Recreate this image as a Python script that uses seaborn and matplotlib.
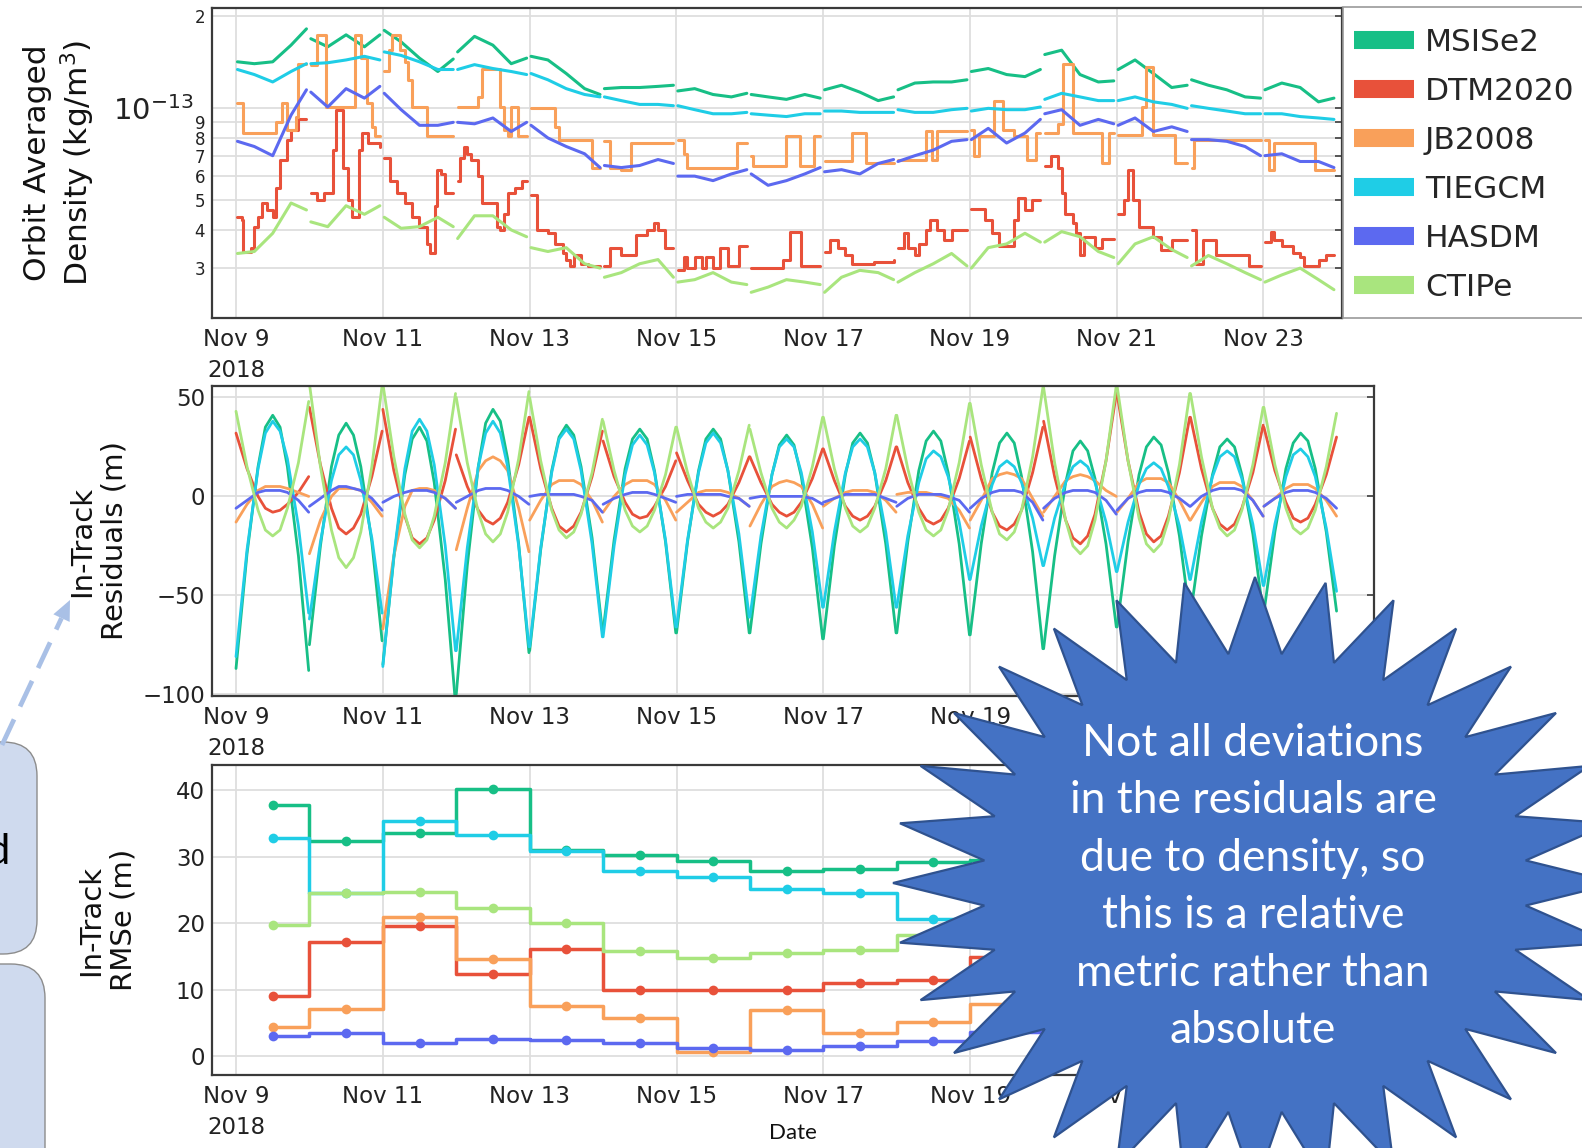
import numpy as np
import pandas as pd
import matplotlib
matplotlib.use("Agg")
import matplotlib.pyplot as plt
import seaborn as sns
from matplotlib.patches import Polygon, FancyBboxPatch, Rectangle
from matplotlib.lines import Line2D
from matplotlib.transforms import IdentityTransform
from matplotlib.ticker import FixedLocator, FixedFormatter

# ---------------- data ----------------
models = ["MSISe2", "DTM2020", "JB2008", "TIEGCM", "HASDM", "CTIPe"]
model_colors = ["#17BF86", "#E8513A", "#F9A05A", "#1FCDE6", "#5C69F0", "#A9E57E"]

days = list(range(9, 24))                    # Nov 9 ... Nov 23
dens_frac = [0.02, 0.25, 0.5, 0.75, 0.96]    # sample times within each day
# orbit averaged density, units of 1e-14 kg/m^3 (5 samples per day)
msise2_density = [14.2, 14.0, 14.2, 16.1, 18.2, 16.9, 15.9, 17.4, 15.9, 17.4,
                  18.0, 16.5, 14.6, 13.2, 14.5, 15.3, 17.2, 16.1, 14.0, 14.6,
                  14.8, 14.4, 13.0, 11.6, 11.1, 11.6, 11.7, 11.7, 11.8, 11.9,
                  11.4, 11.6, 11.1, 10.9, 11.2, 11.1, 10.9, 10.7, 11.1, 10.8,
                  11.5, 11.9, 11.3, 10.6, 10.9, 11.5, 12.1, 12.2, 12.2, 12.4,
                  13.2, 13.5, 12.9, 12.7, 13.4, 15.0, 15.5, 12.9, 12.2, 12.3,
                  13.4, 14.4, 13.0, 11.7, 11.9, 12.4, 11.9, 11.5, 10.9, 10.8,
                  11.5, 12.1, 11.7, 10.5, 10.8]
tiegcm_density = [13.4, 12.9, 12.2, 13.2, 14.0, 14.0, 14.1, 14.4, 14.8, 14.4,
                  15.3, 14.9, 14.2, 13.4, 13.4, 13.4, 13.9, 13.5, 13.2, 12.9,
                  13.0, 12.4, 11.6, 11.1, 10.9, 10.9, 10.6, 10.3, 10.3, 10.2,
                  10.2, 9.9, 9.6, 9.6, 9.7, 9.6, 9.5, 9.4, 9.6, 9.6,
                  9.8, 9.8, 9.7, 9.7, 9.7, 9.9, 9.7, 9.7, 9.9, 10.0,
                  9.8, 10.0, 9.9, 9.9, 10.1, 10.7, 11.2, 10.9, 10.6, 10.6,
                  10.6, 10.9, 10.5, 10.3, 10.0, 10.2, 10.0, 9.8, 9.6, 9.6,
                  9.6, 9.6, 9.4, 9.3, 9.2]
hasdm_density = [7.8, 7.5, 7.0, 9.5, 11.5, 11.3, 10.1, 11.6, 10.8, 11.8,
                 11.2, 9.9, 8.8, 8.8, 9.0, 9.0, 8.9, 9.3, 8.4, 9.0,
                 8.8, 8.0, 7.5, 7.1, 6.4, 6.5, 6.4, 6.5, 6.8, 6.6,
                 6.0, 6.0, 5.8, 6.1, 6.3, 6.1, 5.6, 5.8, 6.1, 6.4,
                 6.2, 6.3, 6.1, 6.6, 6.8, 6.7, 7.0, 7.3, 7.8, 7.9,
                 7.9, 8.6, 7.7, 8.3, 9.2, 9.6, 9.9, 8.8, 9.2, 8.9,
                 8.8, 9.3, 8.4, 8.7, 8.4, 7.9, 7.9, 7.8, 7.5, 7.0,
                 7.0, 7.1, 6.7, 6.7, 6.4]
ctipe_density = [3.35, 3.4, 3.9, 4.9, 4.65, 4.25, 4.1, 4.8, 4.5, 4.8,
                 4.4, 4.05, 4.1, 4.4, 4.1, 3.75, 4.45, 4.45, 4.0, 3.8,
                 3.5, 3.4, 3.5, 3.1, 3.0, 2.8, 2.9, 3.1, 3.2, 2.8,
                 2.7, 2.75, 2.9, 2.7, 2.65, 2.5, 2.6, 2.75, 2.7, 2.65,
                 2.5, 2.8, 2.95, 2.9, 2.75, 2.7, 2.9, 3.1, 3.35, 3.05,
                 3.0, 3.5, 3.6, 3.9, 3.65, 3.65, 3.95, 3.8, 3.4, 3.25,
                 3.1, 3.6, 3.8, 3.45, 3.25, 3.05, 3.3, 3.1, 2.9, 2.75,
                 2.7, 2.85, 3.0, 2.75, 2.55]
# step-like models: change points (day of Nov 2018, density 1e-14 kg/m^3)
dtm2020_t = [9.02, 9.08, 9.1, 9.2, 9.25, 9.3, 9.35, 9.42, 9.5, 9.55, 9.6, 9.7, 9.75, 9.85, 9.96,
             10.02, 10.1, 10.2, 10.32, 10.36, 10.46, 10.52, 10.58, 10.68, 10.72, 10.8, 10.96,
             11.02, 11.1, 11.2, 11.3, 11.4, 11.5, 11.6, 11.65, 11.71, 11.74, 11.8, 11.85, 11.96,
             12.02, 12.05, 12.1, 12.15, 12.2, 12.3, 12.35, 12.55, 12.6, 12.65, 12.7, 12.8, 12.9, 12.96,
             13.02, 13.1, 13.25, 13.35, 13.45, 13.5, 13.55, 13.6, 13.7, 13.8, 13.96,
             14.02, 14.1, 14.25, 14.45, 14.6, 14.7, 14.75, 14.85, 14.96,
             15.02, 15.1, 15.15, 15.25, 15.35, 15.4, 15.5, 15.6, 15.7, 15.85, 15.96,
             16.02, 16.45, 16.55, 16.7, 16.96,
             17.02, 17.1, 17.2, 17.3, 17.4, 17.7, 17.96,
             18.02, 18.1, 18.15, 18.25, 18.3, 18.4, 18.45, 18.55, 18.65, 18.75, 18.96,
             19.02, 19.2, 19.3, 19.4, 19.6, 19.65, 19.75, 19.85, 19.96,
             20.02, 20.1, 20.2, 20.25, 20.3, 20.4, 20.45, 20.5, 20.55, 20.7, 20.8, 20.96,
             21.02, 21.1, 21.15, 21.22, 21.3, 21.5, 21.6, 21.75, 21.96,
             22.02, 22.08, 22.18, 22.35, 22.8, 22.96,
             23.02, 23.1, 23.15, 23.25, 23.4, 23.5, 23.55, 23.75, 23.85, 23.96]
dtm2020_density = [4.4, 4.3, 3.4, 3.5, 4.1, 4.4, 4.9, 4.65, 4.4, 5.5, 6.8, 7.9, 8.5, 9.2, 9.2,
                   5.3, 5.0, 5.3, 7.3, 9.9, 6.4, 5.0, 4.4, 7.3, 8.3, 7.7, 7.5,
                   6.9, 5.8, 5.3, 4.9, 4.4, 4.1, 3.6, 3.35, 4.8, 6.3, 6.1, 5.3, 5.3,
                   5.8, 6.9, 7.5, 7.1, 6.8, 6.0, 4.9, 4.1, 4.0, 4.5, 5.3, 5.5, 5.8, 5.8,
                   5.2, 4.0, 3.9, 3.6, 3.35, 3.2, 3.05, 3.3, 3.1, 3.05, 3.05,
                   3.05, 3.5, 3.3, 3.85, 4.0, 4.2, 4.0, 3.5, 3.5,
                   2.95, 3.25, 3.0, 3.25, 3.0, 3.25, 3.0, 3.5, 3.05, 3.55, 3.55,
                   3.0, 3.2, 3.95, 3.05, 3.05,
                   3.4, 3.7, 3.5, 3.3, 3.1, 3.15, 3.2,
                   3.5, 3.9, 3.5, 3.3, 3.6, 4.0, 4.3, 4.0, 3.7, 4.0, 4.0,
                   4.7, 4.3, 3.9, 3.55, 4.3, 5.1, 4.65, 5.0, 5.0,
                   6.5, 7.0, 6.4, 5.3, 4.5, 4.2, 3.9, 3.3, 3.8, 3.5, 3.75, 3.75,
                   4.5, 5.0, 6.3, 5.0, 4.1, 3.8, 3.45, 3.7, 3.7,
                   4.0, 3.1, 3.7, 3.3, 3.05, 3.05,
                   3.65, 3.95, 3.7, 3.55, 3.35, 3.25, 3.05, 3.2, 3.3, 3.3]
jb2008_t = [9.02, 9.1, 9.55, 9.62, 9.7, 9.82, 9.85, 9.96,
            10.02, 10.1, 10.22, 10.62, 10.7, 10.78, 10.85, 10.9, 10.96,
            11.02, 11.08, 11.13, 11.24, 11.3, 11.35, 11.4, 11.6, 11.96,
            12.02, 12.3, 12.35, 12.6, 12.65, 12.7, 12.75, 12.84, 12.96,
            13.02, 13.35, 13.4, 13.85, 13.96,
            14.02, 14.1, 14.25, 14.38, 14.96,
            15.02, 15.1, 15.15, 15.82, 15.96,
            16.02, 16.05, 16.5, 16.68, 16.88, 16.96,
            17.02, 17.4, 17.58, 17.96,
            18.02, 18.4, 18.48, 18.55, 18.96,
            19.02, 19.05, 19.12, 19.33, 19.45, 19.6, 19.78, 19.9, 19.96,
            20.02, 20.2, 20.27, 20.4, 20.8, 20.9, 20.96,
            21.02, 21.35, 21.4, 21.5, 21.8, 21.96,
            22.02, 22.05, 22.96,
            23.02, 23.08, 23.15, 23.7, 23.96]
jb2008_density = [10.4, 8.3, 9.0, 10.4, 8.5, 9.4, 14.0, 14.0,
                  13.9, 17.4, 10.1, 17.4, 14.6, 10.4, 8.7, 8.1, 8.1,
                  13.2, 15.5, 17.4, 15.5, 14.2, 12.4, 10.1, 8.1, 8.1,
                  10.1, 10.9, 13.5, 10.1, 8.5, 8.1, 10.1, 8.1, 8.1,
                  10.0, 8.7, 7.9, 6.4, 6.4,
                  7.8, 6.4, 6.3, 7.7, 7.7,
                  7.9, 7.1, 6.4, 7.7, 7.7,
                  7.0, 6.5, 8.1, 6.5, 8.1, 8.1,
                  6.7, 8.3, 6.6, 6.6,
                  6.8, 8.4, 6.8, 8.4, 8.4,
                  8.5, 7.0, 8.1, 10.6, 8.5, 8.1, 6.8, 8.3, 8.3,
                  8.3, 8.9, 14.0, 8.3, 6.6, 8.3, 8.3,
                  8.2, 10.1, 13.7, 8.2, 6.6, 6.6,
                  6.4, 7.9, 7.9,
                  7.9, 6.3, 7.7, 6.3, 6.3]

# in-track residuals (m): 9 samples along each daily arc
resid_frac = [0.0, 0.15, 0.3, 0.4, 0.5, 0.6, 0.7, 0.85, 0.99]
msise2_resid = [-87, -29, 15, 35, 41, 35, 15, -30, -88,    -75, -25, 15, 31, 37, 31, 15, -23, -73,
                -85, -31, 11, 29, 35, 28, 7, -42, -105,    -100, -35, 15, 37, 44, 38, 19, -24, -79,
                -78, -27, 13, 30, 36, 31, 15, -21, -68,    -68, -22, 14, 29, 34, 29, 13, -23, -69,
                -69, -23, 13, 29, 34, 29, 13, -23, -69,    -69, -24, 11, 26, 31, 26, 10, -26, -72,
                -72, -25, 11, 27, 32, 27, 12, -24, -69,    -69, -23, 13, 28, 33, 28, 12, -24, -70,
                -70, -24, 12, 27, 32, 27, 10, -28, -77,    -77, -30, 7, 23, 28, 23, 9, -24, -66,
                -66, -23, 11, 25, 30, 26, 12, -20, -60,    -60, -20, 11, 25, 29, 25, 11, -19, -59,
                -59, -18, 14, 27, 32, 28, 14, -18, -58]
dtm2020_resid = [32, 14, 0, -6, -8, -7, -4, 2, 10,        45, 16, -6, -16, -19, -16, -9, 10, 33,
                 44, 13, -10, -21, -24, -21, -12, 8, 34,  21, 5, -7, -12, -14, -11, -3, 16, 40,
                 40, 14, -6, -15, -18, -15, -8, 10, 33,   28, 10, -3, -9, -11, -10, -5, 5, 18,
                 22, 8, -4, -8, -10, -8, -4, 7, 20,       20, 7, -4, -8, -10, -8, -3, 9, 24,
                 24, 8, -5, -10, -12, -10, -5, 8, 25,     25, 7, -6, -12, -14, -12, -6, 9, 28,
                 30, 9, -8, -15, -17, -14, -7, 12, 35,    38, 10, -12, -21, -24, -20, -9, 18, 52,
                 52, 18, -8, -19, -23, -20, -10, 12, 40,  40, 14, -6, -14, -17, -14, -6, 12, 36,
                 35, 13, -3, -11, -13, -11, -4, 11, 30]
jb2008_resid = [-13, -4, 3, 5, 5, 5, 4, 2, 0,          -29, -12, 0, 4, 4, 4, 3, -3, -10,
                -67, -30, -5, 3, 4, 4, 3, -1, -6,      -27, -6, 13, 18, 20, 18, 13, -6, -28,
                -12, -2, 6, 8, 8, 8, 6, -2, -13,       -8, 0, 6, 8, 8, 8, 6, -2, -12,
                -8, -3, 2, 3, 3, 3, 2, -1, -5,         -15, -4, 5, 7, 8, 7, 5, -4, -16,
                -5, -1, 2, 3, 3, 3, 2, -2, -8,         1, 2, 2, 2, 1, 0, -1, -7, -16,
                -12, -2, 9, 11, 12, 11, 9, -1, -10,    -8, 0, 8, 10, 11, 10, 8, 3, 0,
                -8, -1, 7, 9, 9, 9, 7, -2, -12,        -12, -3, 5, 7, 7, 7, 5, -2, -10,
                -5, -1, 4, 6, 6, 6, 4, -2, -10]
tiegcm_resid = [-81, -27, 14, 32, 38, 33, 19, -15, -59,    -62, -23, 8, 21, 25, 21, 8, -21, -59,
                -86, -30, 14, 33, 39, 33, 16, -25, -78,    -78, -26, 15, 32, 38, 32, 15, -25, -76,
                -76, -26, 12, 29, 34, 29, 13, -24, -71,    -71, -25, 11, 26, 31, 26, 12, -22, -66,
                -66, -22, 12, 27, 32, 27, 13, -19, -61,    -61, -20, 11, 25, 29, 25, 12, -18, -56,
                -56, -18, 12, 25, 29, 25, 12, -18, -56,    -56, -20, 7, 19, 23, 20, 10, -13, -42,
                -42, -15, 6, 15, 18, 15, 7, -11, -35,      -35, -11, 7, 15, 18, 15, 7, -13, -38,
                -38, -13, 6, 14, 17, 14, 5, -15, -42,      -42, -13, 10, 20, 23, 20, 9, -14, -45,
                -45, -14, 10, 21, 24, 20, 10, -16, -48]
hasdm_resid = [-6, -2, 2, 3, 3, 3, 2, -2, -8,     -5, -1, 3, 5, 5, 4, 3, -1, -7,
               -3, 0, 2, 3, 3, 3, 2, -1, -6,      -3, 0, 3, 4, 4, 4, 3, 0, -4,
               0, 1, 1, 1, 1, 1, 0, -2, -8,       -4, -1, 1, 2, 2, 2, 1, -1, -3,
               0, 1, 1, 1, 1, 1, 0, -1, -5,       -1, 0, 0, 0, 0, 0, 0, -1, -4,
               -3, -1, 1, 1, 1, 1, 1, -1, -3,     -5, -1, 1, 1, 1, 1, 0, -2, -8,
               -6, -1, 2, 3, 3, 3, 2, -3, -12,    -6, -1, 2, 3, 3, 3, 2, -2, -9,
               -7, -1, 2, 3, 3, 3, 2, -1, -5,     -5, 0, 3, 4, 4, 4, 3, -2, -10,
               -5, -1, 2, 3, 3, 3, 2, -1, -6]
ctipe_resid = [43, 15, -7, -17, -20, -17, -6, 17, 48,     57, 15, -17, -31, -36, -31, -18, 15, 56,
               57, 20, -9, -22, -26, -22, -10, 17, 52,    50, 17, -8, -19, -23, -19, -8, 19, 53,
               50, 18, -7, -17, -21, -18, -9, 12, 39,     38, 13, -7, -15, -18, -15, -7, 11, 35,
               35, 12, -6, -13, -16, -13, -6, 13, 36,     34, 12, -6, -13, -16, -12, -5, 15, 40,
               40, 14, -6, -15, -18, -15, -6, 14, 41,     41, 14, -8, -17, -20, -17, -7, 17, 47,
               47, 16, -8, -19, -22, -18, -7, 20, 55,     55, 17, -12, -25, -29, -25, -12, 18, 56,
               56, 18, -11, -24, -28, -24, -12, 16, 52,   52, 20, -6, -16, -20, -17, -7, 16, 45,
               45, 16, -6, -16, -19, -16, -7, 15, 42]

# daily in-track RMSe (m), plotted at mid-day
rmse_days = [9.5, 10.5, 11.5, 12.5, 13.5, 14.5, 15.5, 16.5, 17.5, 18.5, 19.5, 20.5, 21.5, 22.5, 23.5]
msise2_rmse = [37.8, 32.3, 33.5, 40.2, 31.0, 30.3, 29.4, 27.8, 28.2, 29.2, 29.5, 31.0, 30.0, 29.0, 28.0]
dtm2020_rmse = [9.0, 17.2, 19.6, 12.4, 16.1, 10.0, 10.0, 10.0, 11.0, 11.4, 14.9, 16.0, 14.0, 13.0, 12.0]
jb2008_rmse = [4.4, 7.1, 20.9, 14.6, 7.6, 5.8, 0.6, 7.0, 3.5, 5.1, 7.9, 9.0, 8.0, 7.0, 6.0]
tiegcm_rmse = [32.8, 24.5, 35.3, 33.2, 30.9, 27.9, 26.9, 25.2, 24.5, 20.6, 21.0, 23.0, 22.0, 21.0, 20.0]
hasdm_rmse = [3.0, 3.5, 2.0, 2.6, 2.5, 2.0, 1.3, 1.0, 1.5, 2.3, 3.7, 4.0, 3.5, 3.0, 3.0]
ctipe_rmse = [19.7, 24.6, 24.7, 22.3, 20.0, 15.8, 14.7, 15.5, 16.0, 18.2, 18.5, 20.0, 19.0, 18.0, 17.0]

date_ticks = [9, 11, 13, 15, 17, 19, 21, 23]
date_labels = ["Nov 9\n2018", "Nov 11", "Nov 13", "Nov 15", "Nov 17", "Nov 19", "Nov 21", "Nov 23"]
callout_text = ("Not all deviations\nin the residuals are\ndue to density, so\n"
                "this is a relative\nmetric rather than\nabsolute")

# ---------------- figure ----------------
sns.set_theme(style="white")
plt.rcParams["font.family"] = ["DejaVu Sans"]
W, H = 1582, 1148
fig = plt.figure(figsize=(W / 100, H / 100), dpi=100)
fig.patch.set_facecolor("white")


def rect(l, t, r, b):
    return [l / W, 1 - b / H, (r - l) / W, (b - t) / H]


ax1 = fig.add_axes(rect(212, 8, 1342, 318))
ax2 = fig.add_axes(rect(212, 386, 1374, 696))
ax3 = fig.add_axes(rect(212, 765, 1374, 1075))


def grid_frame(vals, fracs, scale=1.0):
    t = [d + f for d in days for f in fracs]
    dd = [d for d in days for f in fracs]
    return pd.DataFrame({"t": t, "v": np.asarray(vals, float) * scale, "day": dd})


def step_frame(ts, vals, scale=1.0):
    ts = np.asarray(ts, float)
    return pd.DataFrame({"t": ts, "v": np.asarray(vals, float) * scale,
                         "day": np.floor(ts).astype(int)})


def draw(ax, df, color, **kw):
    sns.lineplot(data=df, x="t", y="v", units="day", estimator=None, sort=True,
                 color=color, ax=ax, legend=False, **kw)


cmap = dict(zip(models, model_colors))
lw_top = 2.2
lw_mid = 2.0

# top panel
draw(ax1, grid_frame(msise2_density, dens_frac, 1e-14), cmap["MSISe2"], lw=lw_top)
draw(ax1, step_frame(dtm2020_t, dtm2020_density, 1e-14), cmap["DTM2020"], lw=lw_top, drawstyle="steps-post")
draw(ax1, step_frame(jb2008_t, jb2008_density, 1e-14), cmap["JB2008"], lw=lw_top, drawstyle="steps-post")
draw(ax1, grid_frame(tiegcm_density, dens_frac, 1e-14), cmap["TIEGCM"], lw=lw_top)
draw(ax1, grid_frame(hasdm_density, dens_frac, 1e-14), cmap["HASDM"], lw=lw_top)
draw(ax1, grid_frame(ctipe_density, dens_frac, 1e-14), cmap["CTIPe"], lw=lw_top)

# middle panel
for name, vals in zip(models, [msise2_resid, dtm2020_resid, jb2008_resid,
                               tiegcm_resid, hasdm_resid, ctipe_resid]):
    draw(ax2, grid_frame(vals, resid_frac), cmap[name], lw=lw_mid)

# bottom panel
for name, vals in zip(models, [msise2_rmse, dtm2020_rmse, jb2008_rmse,
                               tiegcm_rmse, hasdm_rmse, ctipe_rmse]):
    dfr = pd.DataFrame({"t": rmse_days, "v": vals})
    sns.lineplot(data=dfr, x="t", y="v", color=cmap[name], ax=ax3, lw=2.5,
                 drawstyle="steps-mid", marker="o", markersize=7,
                 markeredgewidth=0, legend=False)

# ---------------- axes styling ----------------
spine_c = "#3a3a3a"
grid_c = "#dedede"
for ax in (ax1, ax2, ax3):
    for s in ax.spines.values():
        s.set_color(spine_c)
        s.set_linewidth(1.6)
    ax.set_xticks(date_ticks, labels=date_labels)
    ax.xaxis.set_minor_locator(FixedLocator(list(range(10, 25, 2))))
    ax.tick_params(axis="x", which="major", direction="in", length=10, width=1.8,
                   color="#555555", labelsize=16.5, pad=7, labelcolor="#222222")
    ax.tick_params(axis="x", which="minor", direction="in", length=4.5, width=1.2,
                   color="#777777")
    ax.tick_params(axis="y", which="both", direction="in", length=5, width=1.4,
                   color="#555555", labelsize=16.5, pad=5, labelcolor="#222222",
                   right=True)
    for lbl in ax.get_xticklabels():
        lbl.set_linespacing(1.45)
    ax.grid(True, axis="x", which="major", color=grid_c, lw=1.3)
    ax.set_axisbelow(True)
    ax.set_xlabel("")

ax1.set_xlim(8.673, 24.07)
ax2.set_xlim(8.673, 24.50)
ax3.set_xlim(8.673, 24.50)

ax1.set_yscale("log")
ax1.set_ylim(2.06e-14, 2.13e-13)
ax1.yaxis.set_major_locator(FixedLocator([1e-13]))
ax1.yaxis.set_major_formatter(FixedFormatter([r"$10^{-13}$"]))
minor_vals = [3e-14, 4e-14, 5e-14, 6e-14, 7e-14, 8e-14, 9e-14, 2e-13]
ax1.yaxis.set_minor_locator(FixedLocator(minor_vals))
ax1.yaxis.set_minor_formatter(FixedFormatter(["3", "4", "5", "6", "7", "8", "9", "2"]))
ax1.tick_params(axis="y", which="major", labelsize=21, pad=13)
ax1.tick_params(axis="y", which="minor", labelsize=12, pad=5)
ax1.grid(True, axis="y", which="both", color=grid_c, lw=1.3)

ax2.set_ylim(-100.9, 55.8)
ax2.set_yticks([-100, -50, 0, 50])
ax2.grid(True, axis="y", color=grid_c, lw=1.3)

ax3.set_ylim(-2.8, 43.75)
ax3.set_yticks([0, 10, 20, 30, 40])
ax3.grid(True, axis="y", color=grid_c, lw=1.3)

ax1.set_ylabel("Orbit Averaged\nDensity (kg/m$^3$)", fontsize=22.5, color="#111111")
ax1.yaxis.set_label_coords(-0.102, 0.5)
ax2.set_ylabel("In-Track\nResiduals (m)", fontsize=21, color="#111111")
ax2.yaxis.set_label_coords(-0.072, 0.5)
ax3.set_ylabel("In-Track\nRMSe (m)", fontsize=21, color="#111111")
ax3.yaxis.set_label_coords(-0.0645, 0.5)
ax3.set_xlabel("Date", fontsize=16, family=["Lato", "DejaVu Sans"], color="#111111")
ax3.xaxis.set_label_coords(0.5, -0.155)

# ---------------- overlay decorations (pixel coordinates) ----------------
ident = IdentityTransform()


def P(x, y):
    return (x, H - y)


# legend (frame drawn separately, partly cut by the right edge)
fig.add_artist(Rectangle(P(1343, 318), 300, 311, transform=ident, facecolor="white",
                         edgecolor="#9a9a9a", lw=1.2, zorder=4))
handles = [Line2D([0], [0], color=c, lw=13, solid_capstyle="butt") for c in model_colors]
leg = fig.legend(handles, models, loc="upper left",
                 bbox_to_anchor=(1354 / W, 1 - 28 / H), borderaxespad=0, borderpad=0,
                 fontsize=22.5, handlelength=1.92, handletextpad=0.35, labelspacing=0.64,
                 frameon=False)
leg.set_zorder(5)

# left rounded boxes
for (l, t, r, b) in [(-60, 742, 37, 954), (-60, 964, 45, 1200)]:
    bx = FancyBboxPatch(P(l, b), r - l, b - t, boxstyle="round,pad=0,rounding_size=34",
                        facecolor="#CFDAEE", edgecolor="#8c8c8c", lw=1.0,
                        transform=ident, zorder=8)
    fig.add_artist(bx)
fig.text(*P(9, 852), "d", transform=ident, ha="right", va="center", fontsize=30,
         family=["Lato", "DejaVu Sans"], color="black", zorder=9)

# dashed arrow
tip = np.array([70.0, 600.0])
tail = np.array([2.0, 745.0])
u = (tip - tail) / np.linalg.norm(tip - tail)
nrm = np.array([-u[1], u[0]])
base = tip - 20 * u
fig.add_artist(Line2D([P(*tail)[0], P(*base)[0]], [P(*tail)[1], P(*base)[1]],
                      transform=ident, color="#A9C0E6", lw=3.4, ls=(0, (6, 3)), zorder=9))
head = [P(*tip), P(*(base + 9 * nrm)), P(*(base - 9 * nrm))]
fig.add_artist(Polygon(head, closed=True, transform=ident, facecolor="#A9C0E6",
                       edgecolor="none", zorder=9))

# starburst callout
cx, cy = 1255, 883
n_pts = 32
k = np.arange(2 * n_pts)
ang = np.pi / 2 + k * np.pi / n_pts
rx = np.where(k % 2 == 0, 362, 272)
ry = np.where(k % 2 == 0, 306, 230)
verts = [P(cx + rx[i] * np.cos(a), cy - ry[i] * np.sin(a)) for i, a in enumerate(ang)]
fig.add_artist(Polygon(verts, closed=True, transform=ident, facecolor="#4472C4",
                       edgecolor="#2F528F", lw=1.6, zorder=10))
fig.text(*P(1253, 887), callout_text, transform=ident, ha="center", va="center",
         fontsize=32, color="white", linespacing=1.5,
         family=["Lato", "DejaVu Sans"], zorder=11)

fig.savefig("out.png", dpi=100, facecolor="white")
